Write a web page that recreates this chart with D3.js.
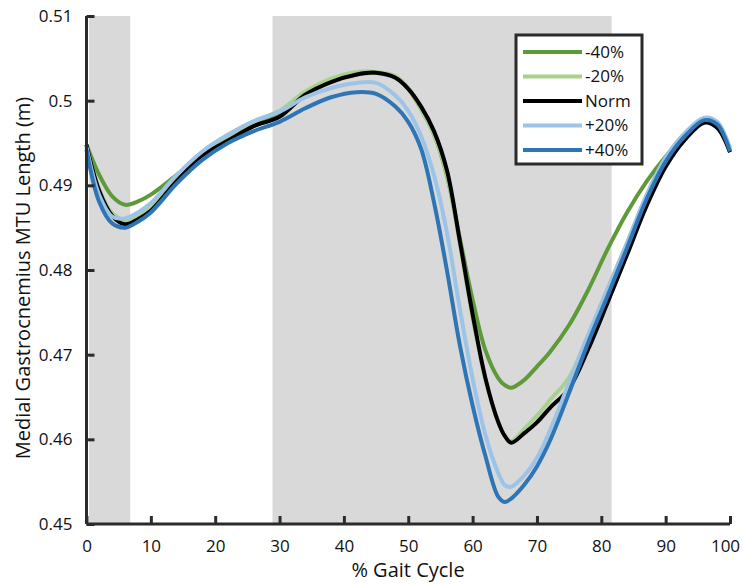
<!DOCTYPE html>
<html>
<head>
<meta charset="utf-8">
<script src="https://cdn.jsdelivr.net/npm/d3@7"></script>
<style>
  body { margin: 0; background: #fff; }
  svg { display: block; font-family: "Open Sans", "Lato", sans-serif; }
</style>
</head>
<body>
<svg id="chart" width="743" height="584"></svg>
<script>
// % gait cycle sample points
const gait = [0, 2, 4, 6, 8, 10, 14, 18, 22, 26, 30, 34, 38, 42, 45, 48, 50, 52, 54, 56, 58, 60, 62, 64, 65, 66, 68, 70, 72, 75, 78, 81, 84, 87, 90, 93, 96, 98, 100];

const minus40 = [0.4948, 0.4912, 0.4887, 0.4877, 0.4881, 0.4889, 0.4912, 0.4935, 0.4955, 0.4972, 0.4984, 0.5008, 0.5023, 0.5031, 0.5033, 0.5028, 0.5014, 0.4990, 0.4960, 0.4912, 0.4838, 0.4765, 0.4705, 0.4672, 0.4664, 0.4661, 0.4670, 0.4686, 0.4703, 0.4735, 0.4777, 0.4825, 0.4868, 0.4904, 0.4934, 0.4959, 0.4976, 0.4971, 0.4940];
const minus20 = [0.4948, 0.4895, 0.4867, 0.4859, 0.4864, 0.4874, 0.4908, 0.4937, 0.4957, 0.4975, 0.4988, 0.5011, 0.5026, 0.5034, 0.5034, 0.5029, 0.5015, 0.4990, 0.4960, 0.4913, 0.4832, 0.4744, 0.4670, 0.4620, 0.4604, 0.4598, 0.4612, 0.4628, 0.4646, 0.4673, 0.4724, 0.4778, 0.4832, 0.4887, 0.4932, 0.4961, 0.4978, 0.4973, 0.4942];
const norm = [0.4948, 0.4893, 0.4864, 0.4854, 0.4860, 0.4870, 0.4905, 0.4935, 0.4953, 0.4970, 0.4981, 0.5007, 0.5022, 0.5031, 0.5033, 0.5027, 0.5014, 0.4993, 0.4964, 0.4918, 0.4835, 0.4748, 0.4672, 0.4620, 0.4604, 0.4596, 0.4607, 0.4620, 0.4637, 0.4660, 0.4707, 0.4762, 0.4818, 0.4875, 0.4922, 0.4954, 0.4974, 0.4968, 0.4939];
const plus20 = [0.4945, 0.4888, 0.4863, 0.4861, 0.4868, 0.4879, 0.4912, 0.4940, 0.4960, 0.4976, 0.4987, 0.5004, 0.5015, 0.5021, 0.5021, 0.5006, 0.4988, 0.4958, 0.4912, 0.4845, 0.4755, 0.4672, 0.4605, 0.4560, 0.4546, 0.4544, 0.4557, 0.4578, 0.4610, 0.4667, 0.4724, 0.4778, 0.4832, 0.4888, 0.4933, 0.4962, 0.4980, 0.4975, 0.4944];
const plus40 = [0.4942, 0.4880, 0.4855, 0.4850, 0.4857, 0.4868, 0.4902, 0.4930, 0.4950, 0.4964, 0.4975, 0.4991, 0.5004, 0.5010, 0.5008, 0.4993, 0.4975, 0.4943, 0.4880, 0.4800, 0.4712, 0.4640, 0.4580, 0.4532, 0.4526, 0.4530, 0.4546, 0.4568, 0.4598, 0.4655, 0.4715, 0.4770, 0.4826, 0.4883, 0.4928, 0.4958, 0.4977, 0.4972, 0.4940];

const seriesNames = ["-40%", "-20%", "Norm", "+20%", "+40%"];
const seriesColors = ["#5f9a3a", "#a9d18e", "#000000", "#9dc3e6", "#2e75b6"];

// shaded phases of the gait cycle [start, end]
const bandStart = [0.4, 28.9];
const bandEnd = [6.8, 81.6];

const xTicks = [0, 10, 20, 30, 40, 50, 60, 70, 80, 90, 100];
const yTicks = [0.45, 0.46, 0.47, 0.48, 0.49, 0.5, 0.51];

const allSeries = [minus40, minus20, norm, plus20, plus40];

const svg = d3.select("#chart");

const x = d3.scaleLinear().domain([0, 100]).range([86.5, 730]);
const y = d3.scaleLinear().domain([0.45, 0.51]).range([524, 16]);

// gray bands
svg.selectAll(".band")
    .data(bandStart.map((s, i) => ({ s: s, e: bandEnd[i] })))
    .enter()
    .append("rect")
    .attr("class", "band")
    .attr("x", d => x(d.s))
    .attr("y", y(0.51))
    .attr("width", d => x(d.e) - x(d.s))
    .attr("height", y(0.45) - y(0.51))
    .attr("fill", "#d9d9d9");

// curves
const line = d3.line()
    .x((d, i) => x(gait[i]))
    .y(d => y(d))
    .curve(d3.curveCatmullRom.alpha(0.5));

svg.selectAll(".curve")
    .data(allSeries)
    .enter()
    .append("path")
    .attr("class", "curve")
    .attr("d", d => line(d))
    .attr("fill", "none")
    .attr("stroke", (d, i) => seriesColors[i])
    .attr("stroke-width", 4)
    .attr("stroke-linejoin", "round");

// axes
const axisColor = "#2b2b2b";

const xAxis = svg.append("g")
    .attr("transform", `translate(0,${y(0.45)})`)
    .call(d3.axisBottom(x).tickValues(xTicks).tickFormat(d3.format("d")).tickSize(-8).tickPadding(16));

const yAxis = svg.append("g")
    .attr("transform", `translate(${x(0)},0)`)
    .call(d3.axisLeft(y).tickValues(yTicks).tickFormat(d => d3.format("")(+d.toFixed(2))).tickSize(-8).tickPadding(14));

[xAxis, yAxis].forEach(g => {
    g.select(".domain").attr("stroke", axisColor).attr("stroke-width", 3);
    g.selectAll(".tick line").attr("stroke", axisColor).attr("stroke-width", 3);
    g.selectAll(".tick text")
        .attr("fill", "#111")
        .style("font-size", "17px")
        .style("font-family", "'Open Sans', sans-serif");
});
xAxis.select(".domain").attr("d", `M${x(0)},0H${x(100)}`);
yAxis.select(".domain").attr("d", `M0,${y(0.45)}V${y(0.51)}`);
// keep the last label inside the page
xAxis.selectAll(".tick text").filter(d => d === 100).attr("dx", -5);

// axis titles
svg.append("text")
    .attr("x", 408)
    .attr("y", 577)
    .attr("text-anchor", "middle")
    .style("font-size", "20px")
    .attr("fill", "#111")
    .text("% Gait Cycle");

svg.append("text")
    .attr("transform", `translate(30,278) rotate(-90)`)
    .attr("text-anchor", "middle")
    .style("font-size", "20px")
    .attr("fill", "#111")
    .text("Medial Gastrocnemius MTU Length (m)");

// legend
const legend = svg.append("g").attr("transform", "translate(516,35)");
legend.append("rect")
    .attr("width", 126)
    .attr("height", 129)
    .attr("fill", "#fff")
    .attr("stroke", axisColor)
    .attr("stroke-width", 3);

const rows = legend.selectAll(".row")
    .data(seriesNames)
    .enter()
    .append("g")
    .attr("class", "row")
    .attr("transform", (d, i) => `translate(0,${17 + i * 24.5})`);

rows.append("line")
    .attr("x1", 7)
    .attr("x2", 66)
    .attr("stroke", (d, i) => seriesColors[i])
    .attr("stroke-width", 4);

rows.append("text")
    .attr("x", 69)
    .attr("dy", "0.35em")
    .style("font-size", "17px")
    .attr("fill", "#111")
    .text(d => d);
</script>
</body>
</html>
